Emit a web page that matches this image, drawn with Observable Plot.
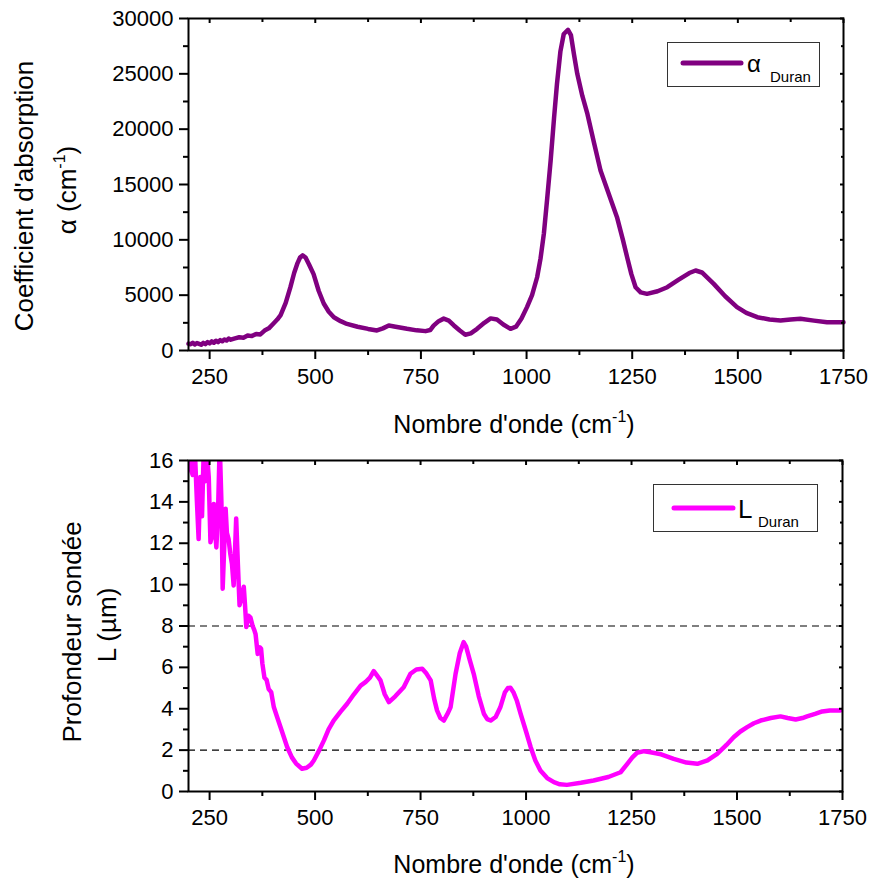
<!DOCTYPE html>
<html>
<head>
<meta charset="utf-8">
<script src="https://cdn.jsdelivr.net/npm/d3@7"></script>
<script src="https://cdn.jsdelivr.net/npm/@observablehq/plot@0.6"></script>
<style>
  html, body { margin: 0; padding: 0; background: white; }
  #chart { width: 870px; height: 879px; position: relative; }
  #chart svg { display: block; }
</style>
</head>
<body>
<div id="chart"></div>
<script>
// ---------- Data ----------
const xTitle = "Nombre d'onde (cm";
const xTitleSup = "-1";
const topTitle1 = "Coefficient d'absorption";
const topTitle2 = "\u03B1 (cm";
const botTitle1 = "Profondeur sondée";
const botTitle2 = "L (\u00B5m)";
const topLegendMain = "\u03B1";
const botLegendMain = "L";
const legendSub = "Duran";

const xMajor = [250, 500, 750, 1000, 1250, 1500, 1750];
const xMinor = [375, 625, 875, 1125, 1375, 1625];
const alphaMajor = [0, 5000, 10000, 15000, 20000, 25000, 30000];
const alphaMinor = [2500, 7500, 12500, 17500, 22500, 27500];
const lMajor = [0, 2, 4, 6, 8, 10, 12, 14, 16];
const lMinor = [1, 3, 5, 7, 9, 11, 13, 15];
const dashLevels = [2, 8];

const alphaX = [200,205,210,215,220,225,230,235,240,245,250,255,260,265,270,275,280,285,290,295,300,
  310,320,330,340,350,360,370,380,390,400,410,418,430,441,450,458,464,470,477,485,496,508,520,532,544,
  560,575,600,625,646,660,674,690,717,740,761,772,780,792,804,816,828,842,855,868,883,900,915,930,945,
  962,975,988,1001,1013,1025,1033,1041,1049,1057,1065,1072,1080,1088,1098,1105,1112,1120,1132,1144,
  1160,1175,1195,1214,1228,1238,1248,1258,1270,1285,1310,1333,1360,1385,1400,1415,1443,1470,1498,1520,
  1546,1575,1601,1625,1648,1680,1711,1750];
const alphaY = [620,560,700,540,680,600,520,690,580,760,640,820,700,880,760,940,830,1000,900,1080,980,
  1100,1200,1150,1350,1300,1500,1450,1800,2000,2400,2800,3200,4300,5700,7000,7900,8400,8600,8400,7800,6900,5400,4250,3500,3000,
  2650,2400,2150,1950,1810,2000,2260,2150,1960,1820,1750,1850,2250,2650,2880,2700,2260,1800,1420,1550,1960,2500,2900,2800,2350,
  1960,2150,2900,3920,5000,6620,8300,10570,13800,17170,21000,24100,27000,28600,28970,28500,26800,25000,23000,21380,
  18700,16270,14100,12050,10000,8430,6900,5720,5250,5120,5350,5720,6400,7000,7230,7050,6020,4900,3920,3400,
  3010,2800,2710,2800,2860,2700,2560,2560];

const lX = [200,205,210,215,220,224,228,232,236,240,244,248,252,256,260,263,266,270,274,278,281,285,288,291,295,299,
  303,307,310,313,317,321,326,331,334,337,342,347,352,356,359,364,369,372,375,380,385,390,396,402,410,420,434,445,455,
  469,480,490,497,510,521,532,544,560,576,592,608,620,630,639,647,655,665,675,690,710,726,740,754,764,774,782,789,797,
  805,815,821,833,843,852,858,866,876,888,900,908,916,928,939,950,957,963,970,978,987,1000,1011,1022,1034,1050,1066,
  1080,1097,1130,1160,1195,1224,1240,1252,1263,1280,1295,1320,1350,1380,1406,1430,1453,1475,1492,1508,1524,1540,1556,
  1580,1603,1620,1639,1655,1666,1685,1702,1720,1745,1750];
const lY = [16.5,15.6,15.3,16.5,14.0,12.2,15.2,13.3,16.4,15.0,16.3,15.2,12.05,12.4,13.9,12.6,11.8,13.5,16.8,14.0,9.8,12.0,13.67,12.5,12.2,11.5,
  11.0,9.96,11.5,13.2,11.0,9.0,9.4,9.9,9.0,7.95,8.5,8.4,8.0,7.8,7.6,6.65,6.97,6.9,6.2,5.5,5.4,4.95,4.8,4.1,3.6,3.0,2.14,1.65,1.35,
  1.1,1.15,1.3,1.5,2.0,2.47,3.0,3.43,3.85,4.24,4.7,5.12,5.3,5.5,5.82,5.6,5.37,4.7,4.32,4.6,5.04,5.69,5.9,5.93,5.7,5.37,4.5,3.92,3.55,
  3.43,3.8,4.07,5.69,6.7,7.22,7.0,6.4,5.69,4.6,3.76,3.5,3.43,3.6,4.07,4.8,5.0,5.01,4.8,4.4,3.76,2.9,2.14,1.5,1.02,0.65,0.45,
  0.35,0.32,0.42,0.53,0.7,0.93,1.34,1.65,1.87,1.95,1.9,1.8,1.58,1.4,1.34,1.5,1.82,2.25,2.62,2.9,3.11,3.3,3.43,
  3.55,3.63,3.55,3.48,3.55,3.63,3.75,3.87,3.92,3.92,3.95];

const alphaData = alphaX.map((x, i) => ({x, y: alphaY[i]}));
const lData = lX.map((x, i) => ({x, y: lY[i]}));

// ---------- Styles ----------
const FONT = "'Liberation Sans', Arial, Helvetica, sans-serif";
const PURPLE = "#800080";
const MAGENTA = "#ff00ff";
const fmt = d3.format("d");

function axes(xMaj, xMin, yMaj, yMin) {
  const common = {strokeWidth: 2, label: null, stroke: "black"};
  return [
    Plot.axisX(xMaj, {...common, anchor: "bottom", tickSize: 9, tickPadding: 9, fontSize: 22, fill: "black", tickFormat: fmt}),
    Plot.axisX(xMin, {...common, anchor: "bottom", tickSize: 5, fill: "none"}),
    Plot.axisX(xMaj, {...common, anchor: "top", tickSize: -4, fill: "none"}),
    Plot.axisX(xMin, {...common, anchor: "top", tickSize: -3, fill: "none"}),
    Plot.axisY(yMaj, {...common, anchor: "left", tickSize: 9, tickPadding: 6, fontSize: 22, fill: "black", tickFormat: fmt}),
    Plot.axisY(yMin, {...common, anchor: "left", tickSize: 5, fill: "none"}),
    Plot.axisY(yMaj, {...common, anchor: "right", tickSize: -4, fill: "none"}),
    Plot.axisY(yMin, {...common, anchor: "right", tickSize: -3, fill: "none"}),
    Plot.frame({stroke: "black", strokeWidth: 2})
  ];
}

const topPlot = Plot.plot({
  width: 870, height: 440,
  marginLeft: 188, marginRight: 27, marginTop: 18, marginBottom: 90,
  style: {fontFamily: FONT, fontSize: "22px", color: "black", background: "white", overflow: "visible"},
  x: {domain: [200, 1750]},
  y: {domain: [0, 30000]},
  marks: [
    Plot.line(alphaData, {x: "x", y: "y", stroke: PURPLE, strokeWidth: 4.5, strokeLinejoin: "round", strokeLinecap: "round"}),
    ...axes(xMajor, xMinor, alphaMajor, alphaMinor)
  ]
});

const botPlot = Plot.plot({
  width: 870, height: 439,
  marginLeft: 188, marginRight: 28, marginTop: 20, marginBottom: 88,
  style: {fontFamily: FONT, fontSize: "22px", color: "black", background: "white", overflow: "visible"},
  x: {domain: [200, 1750]},
  y: {domain: [0, 16]},
  marks: [
    Plot.ruleY(dashLevels, {stroke: "black", strokeWidth: 1.2, strokeDasharray: "7,5"}),
    Plot.line(lData, {x: "x", y: "y", stroke: MAGENTA, strokeWidth: 4.5, strokeLinejoin: "round", strokeLinecap: "round", clip: true}),
    ...axes(xMajor, xMinor, lMajor, lMinor)
  ]
});

const chart = document.getElementById("chart");
chart.appendChild(topPlot);
chart.appendChild(botPlot);

// ---------- Titles ----------
function xAxisTitle(svg, cx, baseline) {
  const t = d3.select(svg).append("text")
    .attr("x", cx).attr("y", baseline)
    .attr("text-anchor", "middle")
    .attr("font-family", FONT).attr("font-size", 25).attr("fill", "black");
  t.append("tspan").text(xTitle);
  t.append("tspan").attr("font-size", 16).attr("dy", -11).text(xTitleSup);
  t.append("tspan").attr("dy", 11).text(")");
}
function yTitle(svg, x, cy, text, sup) {
  const t = d3.select(svg).append("text")
    .attr("transform", `translate(${x},${cy}) rotate(-90)`)
    .attr("text-anchor", "middle")
    .attr("font-family", FONT).attr("font-size", 26).attr("fill", "black");
  t.append("tspan").text(text);
  if (sup) {
    t.append("tspan").attr("font-size", 16).attr("dy", -11).text(sup);
    t.append("tspan").attr("dy", 11).text(")");
  }
}
xAxisTitle(topPlot, 514, 433);
xAxisTitle(botPlot, 514, 433);
yTitle(topPlot, 33, 196, topTitle1);
yTitle(topPlot, 76, 190, topTitle2, xTitleSup);
yTitle(botPlot, 81, 632 - 440, botTitle1);
yTitle(botPlot, 116, 625 - 440, botTitle2);

// ---------- Legends ----------
function legend(svg, box, lineY, lineX1, lineX2, color, mainText, mainX, mainBase, mainSize, subX, subBase) {
  const g = d3.select(svg).append("g").attr("text-anchor", "start");
  g.append("rect").attr("x", box[0]).attr("y", box[1]).attr("width", box[2]).attr("height", box[3])
    .attr("fill", "white").attr("stroke", "#333").attr("stroke-width", 1);
  g.append("line").attr("x1", lineX1).attr("x2", lineX2).attr("y1", lineY).attr("y2", lineY)
    .attr("stroke", color).attr("stroke-width", 5).attr("stroke-linecap", "round");
  g.append("text").attr("x", mainX).attr("y", mainBase).attr("font-family", FONT).attr("text-anchor", "start")
    .attr("font-size", mainSize).attr("fill", "black").text(mainText);
  g.append("text").attr("x", subX).attr("y", subBase).attr("font-family", FONT).attr("text-anchor", "start")
    .attr("font-size", 15).attr("fill", "black").text(legendSub);
}
legend(topPlot, [667.5, 42.5, 152, 44], 63, 683, 741, PURPLE, topLegendMain, 747, 72, 24, 770, 82);
legend(botPlot, [653.5, 44.5, 164, 47], 68, 674, 733, MAGENTA, botLegendMain, 738, 78, 26, 758, 87);
</script>
</body>
</html>
